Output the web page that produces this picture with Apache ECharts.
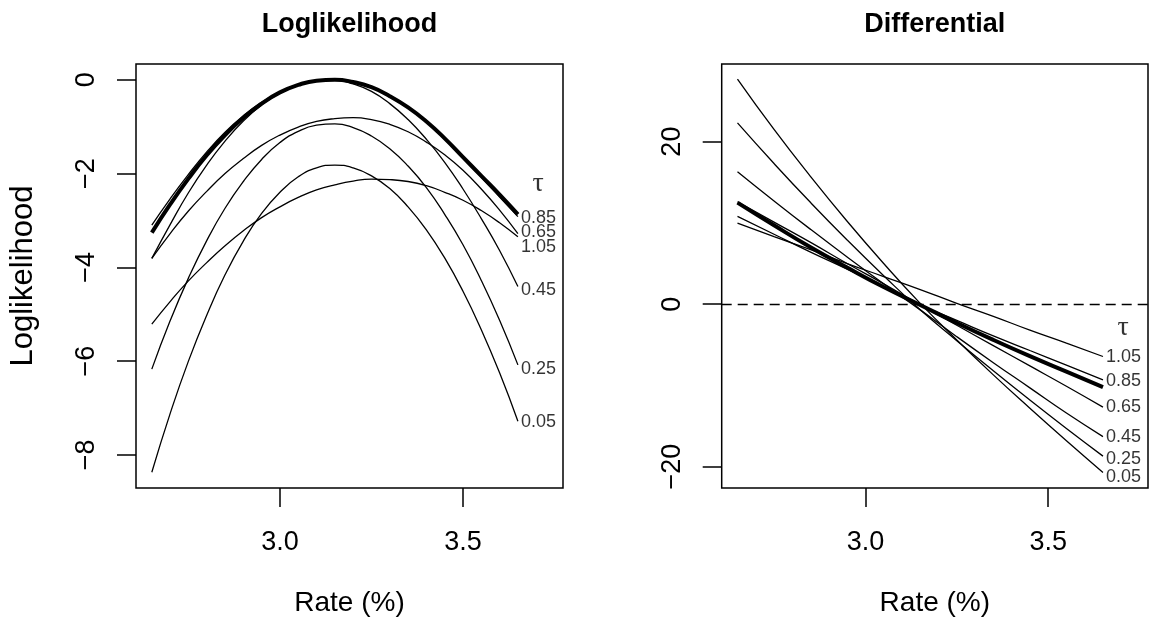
<!DOCTYPE html>
<html>
<head>
<meta charset="utf-8">
<script src="https://cdn.jsdelivr.net/npm/echarts@6.0.0/dist/echarts.min.js"></script>
<style>
  html, body { margin: 0; padding: 0; background: #fff; }
  #chart { width: 1151px; height: 622px; }
</style>
</head>
<body>
<div id="chart"></div>
<script>
// 横轴：利率 (%)
const rate = [2.65, 2.70, 2.75, 2.80, 2.85, 2.90, 2.95, 3.00, 3.05, 3.10, 3.15,
              3.20, 3.25, 3.30, 3.35, 3.40, 3.45, 3.50, 3.55, 3.60, 3.65]
const rateD = [2.65, 2.75, 2.85, 2.95, 3.05, 3.15, 3.25, 3.35, 3.45, 3.55, 3.65]

// tau 标签
const tau = ['0.05', '0.25', '0.45', '0.65', '0.85', '1.05']

// 左图：对数似然
const ll005 = [-8.37, -7.12, -6.00, -5.02, -4.16, -3.44, -2.85, -2.40, -2.07, -1.88, -1.82,
               -1.88, -2.05, -2.32, -2.71, -3.20, -3.80, -4.51, -5.33, -6.25, -7.28]
const ll025 = [-6.17, -5.14, -4.23, -3.43, -2.74, -2.17, -1.70, -1.34, -1.10, -0.97, -0.94,
               -1.02, -1.20, -1.47, -1.84, -2.30, -2.87, -3.52, -4.28, -5.13, -6.08]
const ll045 = [-3.81, -3.09, -2.41, -1.82, -1.31, -0.88, -0.54, -0.28, -0.11, -0.02, -0.01,
               -0.09, -0.25, -0.51, -0.85, -1.27, -1.76, -2.33, -2.96, -3.64, -4.41]
const ll065 = [-3.81, -3.28, -2.80, -2.38, -2.00, -1.68, -1.40, -1.18, -1.01, -0.89, -0.83,
               -0.81, -0.85, -0.95, -1.11, -1.33, -1.60, -1.93, -2.33, -2.78, -3.28]
const ll085 = [-3.10, -2.54, -2.02, -1.54, -1.12, -0.77, -0.48, -0.26, -0.10, -0.02, 0.00,
               -0.05, -0.16, -0.35, -0.60, -0.90, -1.27, -1.67, -2.08, -2.50, -2.92]
const ll105 = [-5.21, -4.73, -4.29, -3.90, -3.54, -3.22, -2.94, -2.71, -2.51, -2.35, -2.24,
               -2.16, -2.12, -2.13, -2.17, -2.26, -2.40, -2.57, -2.79, -3.05, -3.35]
const llThick = [-3.26, -2.66, -2.11, -1.61, -1.18, -0.81, -0.51, -0.27, -0.11, -0.02, 0.00,
                 -0.05, -0.16, -0.35, -0.59, -0.89, -1.25, -1.65, -2.05, -2.45, -2.87]

// 右图：导数
const d005 = [27.7, 21.5, 15.7, 10.2, 5.0, 0.1, -4.4, -8.7, -12.8, -16.8, -20.7]
const d025 = [22.3, 17.3, 12.5, 7.9, 3.5, -0.7, -4.5, -8.2, -11.8, -15.3, -18.7]
const d045 = [16.3, 12.7, 9.2, 5.8, 2.5, -0.7, -4.0, -7.2, -10.3, -13.4, -16.3]
const d065 = [12.6, 10.1, 7.6, 5.0, 2.5, -0.1, -2.6, -5.1, -7.6, -10.1, -12.67]
const d085 = [10.8, 8.6, 6.4, 4.3, 2.1, -0.1, -2.0, -3.9, -5.7, -7.5, -9.31]
const d105 = [9.96, 8.3, 6.7, 5.0, 3.4, 1.8, 0.1, -1.5, -3.2, -4.8, -6.44]
const dThick = [12.5, 9.7, 7.0, 4.5, 2.1, -0.1, -2.3, -4.4, -6.4, -8.3, -10.2]

// 刻度
const xTicks = [3.0, 3.5]
const llTicks = [0, -2, -4, -6, -8]
const dTicks = [20, 0, -20]

// 标签的 y 位置（数据坐标）
const llLabelY = [-7.29, -6.16, -4.48, -3.25, -2.95, -3.57]
const dLabelY = [-21.25, -19.04, -16.33, -12.64, -9.44, -6.50]

const FONT = 'Liberation Sans, Arial, Helvetica, sans-serif'

const minus = v => (v < 0 ? '\u2212' + Math.abs(v) : String(v))

function curve(xs, ys, idx, width) {
  return {
    type: 'line',
    xAxisIndex: idx,
    yAxisIndex: idx,
    data: xs.map((x, i) => [x, ys[i]]),
    symbol: 'none',
    smooth: true,
    silent: true,
    lineStyle: { color: '#000', width: width }
  }
}

function tauLabels(ys, idx) {
  return {
    type: 'scatter',
    xAxisIndex: idx,
    yAxisIndex: idx,
    symbolSize: 0,
    silent: true,
    data: tau.map((t, i) => [3.65, ys[i], t]),
    label: {
      show: true,
      position: 'right',
      distance: 3,
      formatter: p => p.data[2],
      color: '#000',
      fontSize: 18,
      fontFamily: FONT
    }
  }
}

function tauHead(y, idx) {
  return {
    type: 'scatter',
    xAxisIndex: idx,
    yAxisIndex: idx,
    symbolSize: 0,
    silent: true,
    data: [[3.705, y]],
    label: {
      show: true,
      position: 'inside',
      formatter: '\u03c4',
      color: '#000',
      fontSize: 28,
      fontFamily: 'Liberation Serif, DejaVu Serif, serif'
    }
  }
}

function xAxis(idx) {
  return {
    type: 'value',
    gridIndex: idx,
    min: 2.6068,
    max: 3.7732,
    name: 'Rate (%)',
    nameLocation: 'middle',
    nameGap: 101,
    nameTextStyle: { color: '#000', fontSize: 28, fontFamily: FONT, lineHeight: 28 },
    axisLine: { show: false, onZero: false },
    splitLine: { show: false },
    axisTick: { show: true, length: 19, customValues: xTicks, lineStyle: { color: '#000', width: 1.5 } },
    axisLabel: {
      customValues: xTicks,
      formatter: v => v.toFixed(1),
      margin: 41,
      color: '#000',
      fontSize: 27,
      lineHeight: 27,
      fontFamily: FONT
    }
  }
}

function yAxis(idx, min, max, ticks, name) {
  return {
    type: 'value',
    gridIndex: idx,
    min: min,
    max: max,
    name: name,
    nameLocation: 'middle',
    nameGap: 97,
    nameTextStyle: { color: '#000', fontSize: 31, fontFamily: FONT, lineHeight: 31 },
    axisLine: { show: false, onZero: false },
    splitLine: { show: false },
    axisTick: { show: true, length: 19, customValues: ticks, lineStyle: { color: '#000', width: 1.5 } },
    axisLabel: {
      customValues: ticks,
      formatter: minus,
      rotate: 90,
      margin: 36,
      color: '#000',
      fontSize: 27,
      lineHeight: 27,
      fontFamily: FONT
    }
  }
}

const options = {
  animation: false,
  backgroundColor: '#fff',
  grid: [
    { left: 136, top: 64, width: 427, height: 424, show: true, borderColor: '#000', borderWidth: 1.5 },
    { left: 721.7, top: 64, width: 426.3, height: 424, show: true, borderColor: '#000', borderWidth: 1.5 }
  ],
  xAxis: [xAxis(0), xAxis(1)],
  yAxis: [
    yAxis(0, -8.705, 0.335, llTicks, 'Loglikelihood'),
    yAxis(1, -22.62, 29.55, dTicks, '')
  ],
  graphic: [
    {
      type: 'text', x: 349.5, y: 25,
      style: { text: 'Loglikelihood', fontSize: 27, fontWeight: 'bold', fontFamily: FONT, fill: '#000', align: 'center', verticalAlign: 'middle' }
    },
    {
      type: 'text', x: 934.8, y: 25,
      style: { text: 'Differential', fontSize: 27, fontWeight: 'bold', fontFamily: FONT, fill: '#000', align: 'center', verticalAlign: 'middle' }
    }
  ],
  series: [
    curve(rate, ll005, 0, 1.3),
    curve(rate, ll025, 0, 1.3),
    curve(rate, ll045, 0, 1.3),
    curve(rate, ll065, 0, 1.3),
    curve(rate, ll085, 0, 1.3),
    curve(rate, ll105, 0, 1.3),
    curve(rate, llThick, 0, 4),
    tauLabels(llLabelY, 0),
    tauHead(-2.21, 0),

    curve(rateD, d005, 1, 1.3),
    curve(rateD, d025, 1, 1.3),
    curve(rateD, d045, 1, 1.3),
    curve(rateD, d065, 1, 1.3),
    curve(rateD, d085, 1, 1.3),
    curve(rateD, d105, 1, 1.3),
    Object.assign(curve(rateD, dThick, 1, 4), {
      // y = 0 的虚线
      markLine: {
        silent: true,
        symbol: 'none',
        label: { show: false },
        lineStyle: { color: '#000', width: 1.3, type: [10, 6] },
        data: [{ yAxis: 0 }]
      }
    }),
    tauLabels(dLabelY, 1),
    tauHead(-2.88, 1)
  ]
}

const chart = echarts.init(document.getElementById('chart'))
chart.setOption(options)
</script>
</body>
</html>
